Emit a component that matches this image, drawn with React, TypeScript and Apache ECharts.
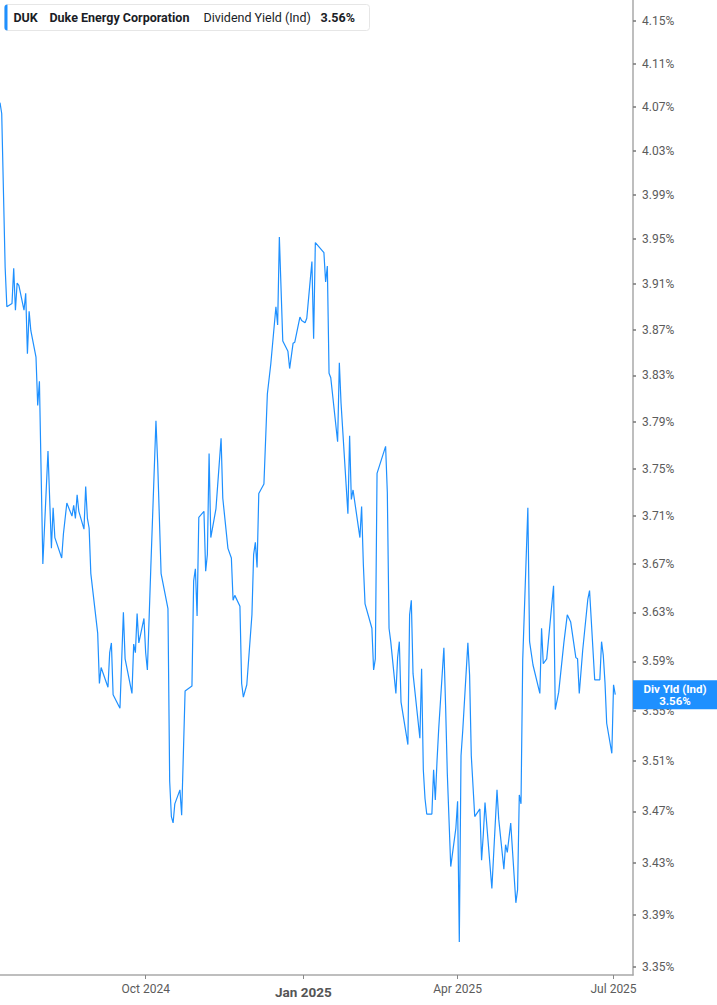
import React, { useEffect, useRef } from "react";
import * as echarts from "echarts";

const ticker = "DUK";
const company = "Duke Energy Corporation";
const metric = "Dividend Yield (Ind)";
const endTag = "Div Yld (Ind)";

const dates = [
  "2024-07-08","2024-07-09","2024-07-11","2024-07-12","2024-07-15","2024-07-16","2024-07-17","2024-07-18","2024-07-19",
  "2024-07-22","2024-07-23","2024-07-24","2024-07-25","2024-07-26","2024-07-29","2024-07-30","2024-07-31","2024-08-02",
  "2024-08-05","2024-08-07","2024-08-08","2024-08-09","2024-08-13","2024-08-14","2024-08-16","2024-08-19","2024-08-20",
  "2024-08-21","2024-08-22","2024-08-23","2024-08-26","2024-08-27","2024-08-28","2024-08-29","2024-08-30","2024-09-03",
  "2024-09-04","2024-09-05","2024-09-09","2024-09-10","2024-09-11","2024-09-12","2024-09-16","2024-09-18","2024-09-19",
  "2024-09-23","2024-09-24","2024-09-25","2024-09-26","2024-09-27","2024-09-30","2024-10-01","2024-10-02","2024-10-04",
  "2024-10-07","2024-10-08","2024-10-10","2024-10-14","2024-10-15","2024-10-16","2024-10-17","2024-10-18","2024-10-21",
  "2024-10-22","2024-10-24","2024-10-28","2024-10-29","2024-10-30","2024-10-31","2024-11-01","2024-11-04","2024-11-05",
  "2024-11-06","2024-11-07","2024-11-08","2024-11-11","2024-11-14","2024-11-15","2024-11-18","2024-11-20","2024-11-21",
  "2024-11-22","2024-11-25","2024-11-26","2024-11-27","2024-11-29","2024-12-02","2024-12-03","2024-12-04","2024-12-05",
  "2024-12-06","2024-12-09","2024-12-11","2024-12-13","2024-12-16","2024-12-17","2024-12-18","2024-12-20","2024-12-23",
  "2024-12-24","2024-12-26","2024-12-27","2024-12-30","2024-12-31","2025-01-02","2025-01-03","2025-01-06","2025-01-07",
  "2025-01-08","2025-01-13","2025-01-14","2025-01-15","2025-01-16","2025-01-17","2025-01-21","2025-01-22","2025-01-23",
  "2025-01-27","2025-01-28","2025-01-29","2025-01-30","2025-02-03","2025-02-04","2025-02-05","2025-02-06","2025-02-10",
  "2025-02-11","2025-02-12","2025-02-13","2025-02-18","2025-02-19","2025-02-20","2025-02-21","2025-02-24","2025-02-25",
  "2025-02-26","2025-02-27","2025-03-03","2025-03-04","2025-03-05","2025-03-06","2025-03-10","2025-03-11","2025-03-12",
  "2025-03-13","2025-03-14","2025-03-17","2025-03-18","2025-03-19","2025-03-20","2025-03-21","2025-03-24","2025-03-25",
  "2025-03-26","2025-03-28","2025-03-31","2025-04-01","2025-04-02","2025-04-03","2025-04-04","2025-04-07","2025-04-08",
  "2025-04-09","2025-04-11","2025-04-14","2025-04-15","2025-04-16","2025-04-17","2025-04-21","2025-04-24","2025-04-25",
  "2025-04-28","2025-04-29","2025-04-30","2025-05-02","2025-05-05","2025-05-06","2025-05-07","2025-05-08","2025-05-09",
  "2025-05-12","2025-05-13","2025-05-15","2025-05-19","2025-05-20","2025-05-21","2025-05-23","2025-05-27","2025-05-28",
  "2025-05-30","2025-06-02","2025-06-04","2025-06-06","2025-06-09","2025-06-10","2025-06-11","2025-06-13","2025-06-16",
  "2025-06-17","2025-06-20","2025-06-23","2025-06-24","2025-06-25","2025-06-26","2025-06-27","2025-06-30","2025-07-01",
  "2025-07-02",
];

const yields = [
  4.074,4.064,3.925,3.890,3.893,3.924,3.887,3.911,3.909,
  3.887,3.902,3.849,3.886,3.869,3.846,3.804,3.825,3.670,
  3.765,3.683,3.717,3.692,3.675,3.695,3.721,3.710,3.719,
  3.708,3.728,3.714,3.699,3.735,3.708,3.700,3.662,3.613,
  3.572,3.585,3.569,3.597,3.605,3.563,3.552,3.630,3.592,
  3.564,3.604,3.597,3.629,3.605,3.625,3.597,3.583,3.667,
  3.791,3.755,3.662,3.633,3.494,3.466,3.461,3.476,3.487,
  3.467,3.566,3.570,3.656,3.666,3.627,3.709,3.714,3.664,
  3.678,3.763,3.692,3.716,3.776,3.725,3.683,3.675,3.640,
  3.644,3.635,3.572,3.561,3.571,3.628,3.678,3.688,3.667,
  3.729,3.737,3.814,3.840,3.890,3.874,3.952,3.860,3.851,
  3.836,3.858,3.859,3.881,3.878,3.876,3.880,3.930,3.862,
  3.947,3.938,3.912,3.926,3.832,3.828,3.773,3.841,3.806,
  3.712,3.778,3.724,3.732,3.692,3.718,3.670,3.637,3.617,
  3.583,3.592,3.746,3.769,3.730,3.617,3.606,3.564,3.593,
  3.606,3.557,3.523,3.628,3.640,3.580,3.528,3.584,3.503,
  3.480,3.468,3.468,3.503,3.479,3.510,3.536,3.601,3.554,
  3.500,3.427,3.457,3.478,3.369,3.514,3.534,3.605,3.579,
  3.514,3.466,3.472,3.432,3.452,3.477,3.410,3.487,3.464,
  3.425,3.444,3.438,3.461,3.399,3.409,3.483,3.476,3.591,
  3.717,3.606,3.587,3.564,3.617,3.588,3.592,3.652,3.551,
  3.565,3.605,3.628,3.622,3.593,3.592,3.564,3.599,3.641,
  3.648,3.575,3.575,3.606,3.595,3.573,3.540,3.516,3.571,
  3.563,
];

const yTickLabels = [3.35,3.39,3.43,3.47,3.51,3.55,3.59,3.63,3.67,3.71,3.75,3.79,3.83,3.87,3.91,3.95,3.99,4.03,4.07,4.11,4.15];
const xTickDates = ["2024-10-01","2025-01-01","2025-04-01","2025-07-01"];
const monthNames = ["Jan","Feb","Mar","Apr","May","Jun","Jul","Aug","Sep","Oct","Nov","Dec"];

const axisStart = "2024-07-08";
const axisEndDays = 369.35;
const yMinVal = 3.3439;
const yMaxVal = 4.1698;

const BLUE = "#1e90ff";
const FONT = "Roboto";

function toTs(s: string): number {
  const [y, m, d] = s.split("-").map(Number);
  return new Date(y, m - 1, d).getTime();
}

export default function App() {
  const ref = useRef<HTMLDivElement>(null);
  useEffect(() => {
    document.body.style.margin = "0";
    const chart = echarts.init(ref.current!, null, { renderer: "svg" });
    const t0 = toTs(axisStart);
    const tMax = t0 + axisEndDays * 86400000;
    const xTicks = xTickDates.map(toTs);
    const yTicks = yTickLabels.map((v) => Math.log(v));
    const data = dates.map((d, i) => [toTs(d), Math.log(yields[i])]);
    const last = yields[yields.length - 1];
    const lastTxt = last.toFixed(2) + "%";

    chart.setOption({
      animation: false,
      grid: { left: 0, right: 84, top: 0, bottom: 30, containLabel: false },
      xAxis: {
        type: "value",
        min: t0,
        max: tMax,
        axisLine: { show: true, lineStyle: { color: "#a8a8a8", width: 1.5 } },
        axisTick: { show: true, customValues: xTicks, length: 4, lineStyle: { color: "#888", width: 1 } },
        axisLabel: {
          customValues: xTicks,
          margin: 8,
          color: "#5b5b5b",
          fontSize: 12,
          fontFamily: FONT,
          formatter: (v: number) => {
            const d = new Date(v);
            const s = monthNames[d.getMonth()] + " " + d.getFullYear();
            return d.getMonth() === 0 ? "{b|" + s + "}" : s;
          },
          rich: { b: { fontWeight: "bold", fontSize: 13.5, color: "#555", fontFamily: FONT, padding: [2, 0, 0, 0] } },
        },
        splitLine: { show: false },
      },
      yAxis: {
        type: "value",
        position: "right",
        min: Math.log(yMinVal),
        max: Math.log(yMaxVal),
        axisLine: { show: true, lineStyle: { color: "#a8a8a8", width: 1.5 } },
        axisTick: { show: true, customValues: yTicks, length: 3, lineStyle: { color: "#777", width: 1.5 } },
        axisLabel: {
          customValues: yTicks,
          margin: 9,
          color: "#5b5b5b",
          fontSize: 12,
          fontFamily: FONT,
          formatter: (v: number) => Math.exp(v).toFixed(2) + "%",
        },
        splitLine: { show: false },
      },
      series: [
        {
          type: "line",
          data,
          showSymbol: false,
          symbol: "none",
          lineStyle: { color: BLUE, width: 1.2 },
        },
      ],
    });

    const py = chart.convertToPixel({ yAxisIndex: 0 }, Math.log(last)) as number;
    chart.setOption({
      graphic: [
        {
          type: "group",
          left: 4,
          top: 4,
          children: [
            { type: "rect", shape: { x: 0, y: 0, width: 365, height: 26, r: 3 }, style: { fill: "#fff", stroke: "#e6e6e6", lineWidth: 1 } },
            { type: "rect", shape: { x: 0, y: 0, width: 3, height: 26, r: [3, 0, 0, 3] }, style: { fill: BLUE } },
            { type: "text", x: 9, y: 13, style: { text: ticker, fill: "#1a1d26", font: "bold 12.5px " + FONT, textVerticalAlign: "middle" } },
            { type: "text", x: 45, y: 13, style: { text: company, fill: "#1a1d26", font: "bold 12.5px " + FONT, textVerticalAlign: "middle" } },
            { type: "text", x: 199, y: 13, style: { text: metric, fill: "#1a1d26", font: "12.5px " + FONT, textVerticalAlign: "middle" } },
            { type: "text", x: 316, y: 13, style: { text: lastTxt, fill: "#1a1d26", font: "bold 12.5px " + FONT, textVerticalAlign: "middle" } },
          ],
        },
        {
          type: "rect",
          shape: { x: 633, y: py - 14.5, width: 84, height: 29 },
          style: { fill: BLUE },
          z: 10,
        },
        {
          type: "text",
          x: 675,
          y: py - 6,
          z: 11,
          style: { text: endTag, fill: "#fff", font: "bold 11.5px " + FONT, textAlign: "center", textVerticalAlign: "middle" },
        },
        {
          type: "text",
          x: 675,
          y: py + 6,
          z: 11,
          style: { text: lastTxt, fill: "#fff", font: "bold 11.5px " + FONT, textAlign: "center", textVerticalAlign: "middle" },
        },
      ],
    });

    return () => chart.dispose();
  }, []);
  return <div ref={ref} style={{ width: 717, height: 1005 }} />;
}
